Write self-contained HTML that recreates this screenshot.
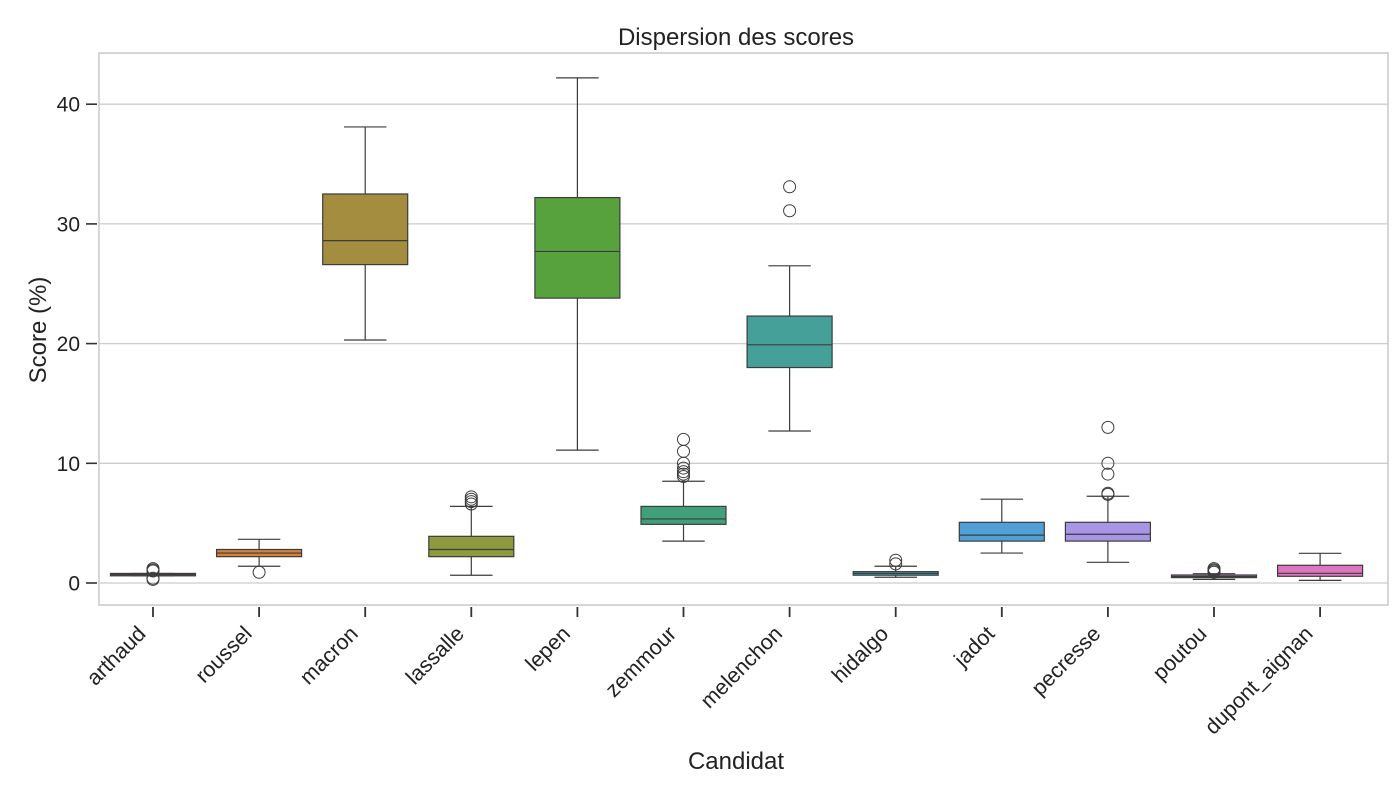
<!DOCTYPE html>
<html><head><meta charset="utf-8"><style>
body{margin:0;background:#fff;font-family:"Liberation Sans",Arial,sans-serif}
svg text{font-family:"Liberation Sans",Arial,sans-serif;fill:#222}
</style></head><body>
<svg id="chart" width="1400" height="800" xmlns="http://www.w3.org/2000/svg">
<rect x="0" y="0" width="1400" height="800" fill="#fff"/>
<g id="grid"></g>
<g id="boxes"></g>
<rect x="99" y="53" width="1289" height="552" fill="none" stroke="#cccccc" stroke-width="1.6"/>
<g id="axes"></g>
<text x="736" y="45" text-anchor="middle" font-size="24">Dispersion des scores</text>
<text x="736" y="769" text-anchor="middle" font-size="24">Candidat</text>
<text transform="translate(46,330) rotate(-90)" text-anchor="middle" font-size="24">Score (%)</text>
</svg>
<script>
const categories=["arthaud","roussel","macron","lassalle","lepen","zemmour","melenchon","hidalgo","jadot","pecresse","poutou","dupont_aignan"];
const colors=["#e07a8c","#d4813c","#a58d40","#8e9a3e","#58a23e","#3fa07a","#44a098","#3f9eab","#4fa0d6","#a995e6","#c87ad8","#e075bf"];
const q1=[0.6,2.2,26.6,2.2,23.8,4.9,18.0,0.65,3.5,3.5,0.45,0.56];
const med=[0.7,2.5,28.6,2.8,27.7,5.35,19.9,0.8,4.0,4.07,0.55,0.81];
const q3=[0.8,2.8,32.5,3.9,32.2,6.4,22.3,0.95,5.07,5.07,0.67,1.48];
const whiskLo=[0.6,1.4,20.3,0.65,11.1,3.5,12.7,0.48,2.5,1.73,0.3,0.22];
const whiskHi=[0.8,3.65,38.1,6.4,42.2,8.5,26.5,1.4,7.0,7.25,0.78,2.48];
const outliers=[[0.3,0.4,1.0,1.1,1.2],[0.9],[],[6.6,6.8,7.0,7.2],[],[8.9,9.1,9.3,9.6,10.0,11.0,12.0],[31.1,33.1],[1.6,1.9],[],[7.4,7.5,9.1,10.0,13.0],[0.9,1.0,1.1,1.2],[]];
const yTicks=[0,10,20,30,40];
const NS="http://www.w3.org/2000/svg";
const L=99,R=1388,Y0=583,PX=11.97;
const X0=153,step=106.1;
const xc=i=>X0+step*i;
const ys=v=>Y0-v*PX;
function mk(tag,attrs,parent){const e=document.createElementNS(NS,tag);for(const k in attrs)e.setAttribute(k,attrs[k]);parent.appendChild(e);return e;}
const grid=document.getElementById('grid'),boxes=document.getElementById('boxes'),axes=document.getElementById('axes');
yTicks.forEach(t=>{
 const g=mk('line',{x1:L,x2:R,y1:ys(t),y2:ys(t),stroke:'#cccccc','stroke-width':1.3},grid);
 
 
 const tk=mk('line',{x1:86,x2:97,y1:ys(t),y2:ys(t),stroke:'#333','stroke-width':1.6},axes);
 
 
 const tx=mk('text',{x:80,y:ys(t)+7.5,'text-anchor':'end','font-size':'21'},axes);
 tx.textContent=t;
 
 
});
const bw=85,cw=bw*0.5;
categories.forEach((c,i)=>{
 const x=xc(i);
 const g=mk('g',{},boxes);
 
 
 const st={stroke:'#3c3c3c','stroke-width':1.2,fill:'none'};
 mk('line',Object.assign({x1:x,x2:x,y1:ys(q3[i]),y2:ys(whiskHi[i])},st),g);
 mk('line',Object.assign({x1:x,x2:x,y1:ys(q1[i]),y2:ys(whiskLo[i])},st),g);
 mk('line',Object.assign({x1:x-cw/2,x2:x+cw/2,y1:ys(whiskHi[i]),y2:ys(whiskHi[i])},st),g);
 mk('line',Object.assign({x1:x-cw/2,x2:x+cw/2,y1:ys(whiskLo[i]),y2:ys(whiskLo[i])},st),g);
 mk('rect',{x:x-bw/2,y:ys(q3[i]),width:bw,height:Math.max(ys(q1[i])-ys(q3[i]),1.5),fill:colors[i],stroke:'#3c3c3c','stroke-width':1.2},g);
 mk('line',Object.assign({x1:x-bw/2,x2:x+bw/2,y1:ys(med[i]),y2:ys(med[i])},st),g);
 outliers[i].forEach(v=>{
  const o=mk('circle',{cx:x,cy:ys(v),r:6,fill:'none',stroke:'#3c3c3c','stroke-width':1},g);
  
  
 });
 const tk=mk('line',{x1:x,x2:x,y1:607,y2:617,stroke:'#333','stroke-width':1.8},axes);
 
 
 const tx=mk('text',{transform:`translate(${x-6},${635}) rotate(-45)`,'text-anchor':'end','font-size':'21.5'},axes);
 tx.textContent=c;
 
 
});
</script>
</body></html>
